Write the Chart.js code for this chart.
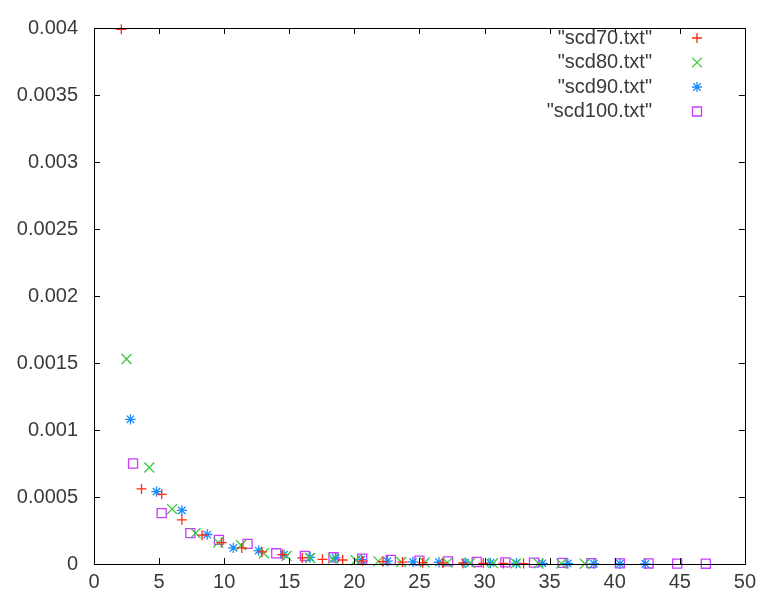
<!DOCTYPE html>
<html>
<head>
<meta charset="utf-8">
<script src="https://cdn.jsdelivr.net/npm/chart.js@4/dist/chart.umd.min.js"></script>
<style>
  html, body { margin: 0; padding: 0; background: #fff; }
  #wrap { width: 762px; height: 596px; }
</style>
</head>
<body>
<div id="wrap"><canvas id="c" width="762" height="596"></canvas></div>
<script>
// series
const names = ['"scd70.txt"', '"scd80.txt"', '"scd90.txt"', '"scd100.txt"'];
const x70 = [2.1, 3.65, 5.2, 6.75, 8.3, 9.8, 11.35, 12.9, 14.45, 16.0, 17.55, 19.1, 20.65, 22.2, 23.7, 25.25, 26.8, 28.35, 29.9, 31.45, 33.0];
const y70 = [0.00399, 0.00056, 0.00052, 0.00033, 0.000215, 0.00016, 0.00012, 0.00009, 0.00007, 0.000045, 0.000035, 0.00003, 0.000022, 0.000018, 0.000014, 0.00001, 0.000008, 0.000006, 0.000005, 0.000004, 0.000003];
const x80 = [2.5, 4.25, 6.0, 7.8, 9.55, 11.3, 13.05, 14.8, 16.6, 18.35, 20.1, 21.85, 23.6, 25.4, 27.15, 28.9, 30.65, 32.4, 34.15, 35.9, 37.7];
const y80 = [0.00153, 0.00072, 0.00041, 0.00023, 0.00016, 0.00014, 0.00008, 0.00006, 0.000045, 0.00004, 0.000028, 0.00002, 0.000015, 0.000012, 0.00001, 0.000008, 0.000006, 0.000005, 0.000004, 0.000003, 0.000002];
const x90 = [2.8, 4.8, 6.75, 8.7, 10.7, 12.65, 14.6, 16.6, 18.55, 20.55, 22.55, 24.5, 26.5, 28.5, 30.45, 32.45, 34.45, 36.4, 38.4, 40.4, 42.35];
const y90 = [0.00108, 0.00054, 0.0004, 0.00022, 0.00012, 0.0001, 0.00007, 0.00005, 0.000045, 0.000032, 0.000022, 0.000016, 0.000013, 0.00001, 0.000008, 0.000006, 0.000005, 0.000004, 0.000003, 0.000002, 0.000001];
const x100 = [3.0, 5.2, 7.4, 9.6, 11.8, 14.0, 16.2, 18.4, 20.6, 22.8, 25.0, 27.2, 29.4, 31.6, 33.8, 36.0, 38.2, 40.4, 42.6, 44.8, 47.0];
const y100 = [0.00075, 0.00038, 0.00023, 0.00018, 0.00015, 0.00008, 0.00006, 0.00005, 0.00004, 0.00003, 0.000025, 0.00002, 0.000015, 0.000012, 0.00001, 0.000008, 0.000006, 0.000005, 0.000004, 0.000003, 0.000002];

const colors = ['#ff2a10', '#3cc83c', '#1a8cff', '#c83cff'];
const styles = ['cross', 'crossRot', 'star', 'rect'];
const radii = [5, 7, 5.2, 6.4];
const FONT = '"Liberation Sans", Arial, sans-serif';
const TXT = '#3a3a3a';

const pts = (xs, ys) => xs.map((x, i) => ({ x: x, y: ys[i] }));
const series = [pts(x70, y70), pts(x80, y80), pts(x90, y90), pts(x100, y100)];

// box, inward ticks on all four sides, legend inside plot
const frame = {
    id: 'frame',
    afterDraw(chart) {
        const ctx = chart.ctx, a = chart.chartArea;
        const xs = chart.scales.x, ys = chart.scales.y;
        ctx.save();
        ctx.strokeStyle = '#000';
        ctx.lineWidth = 1;
        ctx.strokeRect(Math.round(a.left) + 0.5, Math.round(a.top) + 0.5, Math.round(a.right - a.left), Math.round(a.bottom - a.top));
        ctx.beginPath();
        xs.ticks.forEach(t => {
            const px = Math.round(xs.getPixelForValue(t.value)) + 0.5;
            ctx.moveTo(px, a.bottom); ctx.lineTo(px, a.bottom - 6);
            ctx.moveTo(px, a.top); ctx.lineTo(px, a.top + 6);
        });
        ys.ticks.forEach(t => {
            const py = Math.round(ys.getPixelForValue(t.value)) + 0.5;
            ctx.moveTo(a.left, py); ctx.lineTo(a.left + 6, py);
            ctx.moveTo(a.right, py); ctx.lineTo(a.right - 6, py);
        });
        ctx.stroke();

        // legend
        ctx.font = '20px ' + FONT;
        ctx.textAlign = 'right';
        ctx.textBaseline = 'middle';
        names.forEach((n, i) => {
            const y = 38 + i * 24.5;
            ctx.fillStyle = TXT;
            ctx.fillText(n, 652, y);
            const cx = 697;
            ctx.strokeStyle = colors[i];
            ctx.lineWidth = 1.3;
            ctx.beginPath();
            if (i === 0 || i === 2) {
                ctx.moveTo(cx - 5, y); ctx.lineTo(cx + 5, y);
                ctx.moveTo(cx, y - 5); ctx.lineTo(cx, y + 5);
            }
            if (i === 1 || i === 2) {
                const d = i === 1 ? 4.9 : 3.7;
                ctx.moveTo(cx - d, y - d); ctx.lineTo(cx + d, y + d);
                ctx.moveTo(cx - d, y + d); ctx.lineTo(cx + d, y - d);
            }
            if (i === 3) ctx.rect(cx - 4.5, y - 4.5, 9, 9);
            ctx.stroke();
        });
        ctx.restore();
    }
};

new Chart(document.getElementById('c').getContext('2d'), {
    type: 'scatter',
    data: {
        datasets: series.map((d, i) => ({
            label: names[i],
            data: d,
            pointStyle: styles[i],
            pointRadius: radii[i],
            pointHoverRadius: radii[i],
            borderColor: colors[i],
            backgroundColor: 'rgba(0,0,0,0)',
            pointBorderWidth: 1.3,
            clip: false
        }))
    },
    options: {
        responsive: false,
        animation: false,
        layout: { padding: { left: 0, right: 13, top: 22, bottom: 0 } },
        plugins: { legend: { display: false }, tooltip: { enabled: false } },
        scales: {
            x: {
                type: 'linear', min: 0, max: 50,
                border: { display: false },
                grid: { display: false, drawTicks: false },
                ticks: { stepSize: 5, padding: 6, color: TXT, font: { family: FONT, size: 20 }, maxRotation: 0 },
                afterFit: s => { s.height = 32; }
            },
            y: {
                type: 'linear', min: 0, max: 0.004,
                border: { display: false },
                grid: { display: false, drawTicks: false },
                ticks: {
                    stepSize: 0.0005, padding: 16, color: TXT, font: { family: FONT, size: 20 },
                    callback: v => String(+v.toFixed(4))
                },
                afterFit: s => { s.width = 94; }
            }
        }
    },
    plugins: [frame]
});
</script>
</body>
</html>
